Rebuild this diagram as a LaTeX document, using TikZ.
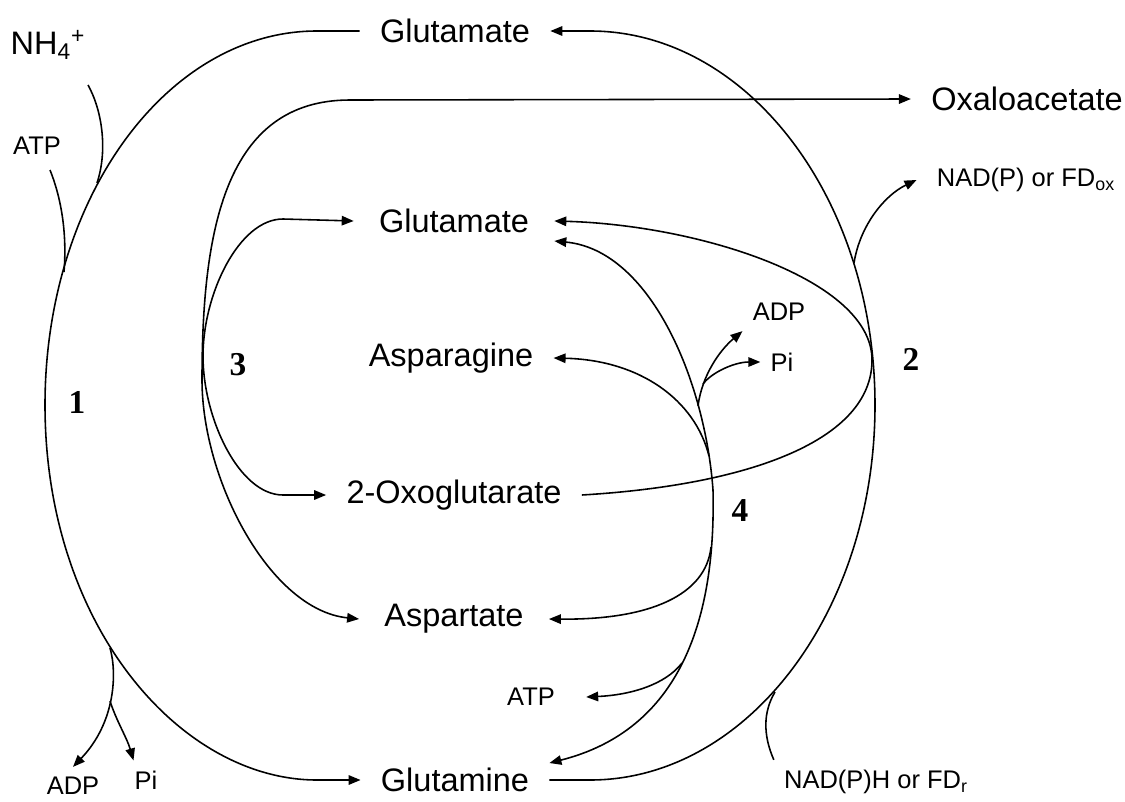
\documentclass[tikz,border=0pt]{standalone}
\usepackage{fontspec}
\setmainfont{Liberation Sans}
\newfontfamily\serifnum{Liberation Serif}
\usetikzlibrary{arrows.meta}
\newcommand{\bigtxt}{\fontsize{18.5}{22}\selectfont}
\newcommand{\smalltxt}{\fontsize{14.5}{17}\selectfont}
\newcommand{\numtxt}{\fontsize{19}{22}\selectfont\serifnum\bfseries}
\tikzset{
  ln/.style={line width=0.9pt},
  arr/.style={ln,-{Triangle[length=0.24cm,width=0.19cm]}},
  barr/.style={ln,{Triangle[length=0.24cm,width=0.19cm]}-{Triangle[length=0.24cm,width=0.19cm]}},
  big/.style={font=\bigtxt, inner xsep=0.4cm, inner ysep=0pt},
  small/.style={font=\smalltxt, inner xsep=0.3cm, inner ysep=0pt},
  num/.style={font=\numtxt, inner sep=0pt}
}
\begin{document}
\begin{tikzpicture}[x=0.02cm,y=-0.02cm]
\fill[white] (0,0) rectangle (1125,801);
\useasboundingbox (0,0) rectangle (1125,801);
% labels
\node[big] (glu1) at (455,31) {Glutamate};
\node[big] (oaa) at (1027,99) {Oxaloacetate};
\node[big, inner xsep=0.5cm] (glu2) at (454,221) {Glutamate};
\node[big] (asn) at (451,358) {Asparagine};
\node[big] (oxo) at (454,495) {2-Oxoglutarate};
\node[big, inner xsep=0.5cm] (asp) at (454,619) {Aspartate};
\node[big] (gln) at (455,780) {Glutamine};
\node[big, inner sep=0pt] (nh4) at (48,45) {NH\textsubscript{4}\textsuperscript{+}};
\node[small, inner sep=0pt] (atpA) at (37,146) {ATP};
\node[small, inner sep=0.2cm] (adpA) at (73,786) {ADP};
\node[small, inner sep=0.2cm] (piA) at (146,780) {Pi};
\node[small, inner xsep=0.62cm] (atpB) at (531,697) {ATP};
\node[small, inner sep=0.2cm] (adpB) at (779,312) {ADP};
\node[small, inner sep=0.2cm] (piB) at (782,362) {Pi};
\node[small, inner xsep=0.4cm] (nadox) at (1026,180) {NAD(P) or FD\textsubscript{ox}};
\node[small, inner sep=0.2cm] (nadh) at (876,782) {NAD(P)H or FD\textsubscript{r}};
\node[num] (n1) at (77,402) {1};
\node[num] (n3) at (238,365) {3};
\node[num] (n2) at (911,359) {2};
\node[num] (n4) at (740,511) {4};
% free ends and branch points
\coordinate (nhin) at (88,85);
\coordinate (atpin) at (50,170);
\coordinate (b1) at (110,648);
\coordinate (b2) at (110,701);
\coordinate (nadout) at (854,263);
\coordinate (c4a) at (709,456);
\coordinate (c4b) at (711,547);
\coordinate (c4c) at (682,663);
\coordinate (c4d) at (698,406);
\coordinate (c4e) at (703,384);
% 1: GS
\draw[arr] (glu1.west) -- (317,31) .. controls (167,31) and (45,198) .. (45,405)
  .. controls (45,625) and (180,780) .. (317,780) -- (gln.west);
\draw[ln] (nhin) .. controls (102,110) and (108,150) .. (97,183);
\draw[ln] (atpin) .. controls (62,200) and (67,235) .. (64,272);
\draw[arr] (b1) .. controls (117,672) and (116,722) .. (adpA.north);
\draw[arr] (b2) .. controls (116,720) and (127,738) .. ([xshift=-0.25cm]piA.north);
% 2: GOGAT
\draw[arr] (gln.east) -- (590,780) .. controls (747,780) and (875,612) .. (875,405)
  .. controls (875,198) and (747,31) .. (590,31) -- (glu1.east);
\draw[ln] (nadh.north west) .. controls (763,735) and (763,712) .. (775,692);
\draw[arr] (nadout) .. controls (860,225) and (885,195) .. (nadox.west);
\draw[arr] (oxo.east) .. controls (750,485) and (872,440) .. (872,360)
  .. controls (872,280) and (700,225) .. (glu2.east);
% 3: AAT
\draw[barr] (oaa.west) -- (350,100) .. controls (225,100) and (202,230) .. (202,380)
  .. controls (202,480) and (270,610) .. (asp.west);
\draw[barr] (glu2.west) -- (283,219) .. controls (239,219) and (203,294) .. (203,356)
  .. controls (203,418) and (239,495) .. (283,495) -- (oxo.west);
% 4: AS
\draw[barr] ([yshift=-0.4cm]glu2.east) .. controls (650,250) and (705,380) .. (713,490)
  .. controls (716,620) and (680,730) .. ([yshift=0.34cm]gln.east);
\draw[arr] (c4a) .. controls (695,400) and (640,360) .. (asn.east);
\draw[arr] (c4b) .. controls (706,595) and (650,620) .. (asp.east);
\draw[arr] (c4c) .. controls (665,685) and (630,695) .. (atpB.east);
\draw[arr] (c4d) .. controls (702,375) and (720,350) .. (adpB.south west);
\draw[arr] (c4e) .. controls (712,372) and (735,362) .. (piB.west);
\end{tikzpicture}
\end{document}
